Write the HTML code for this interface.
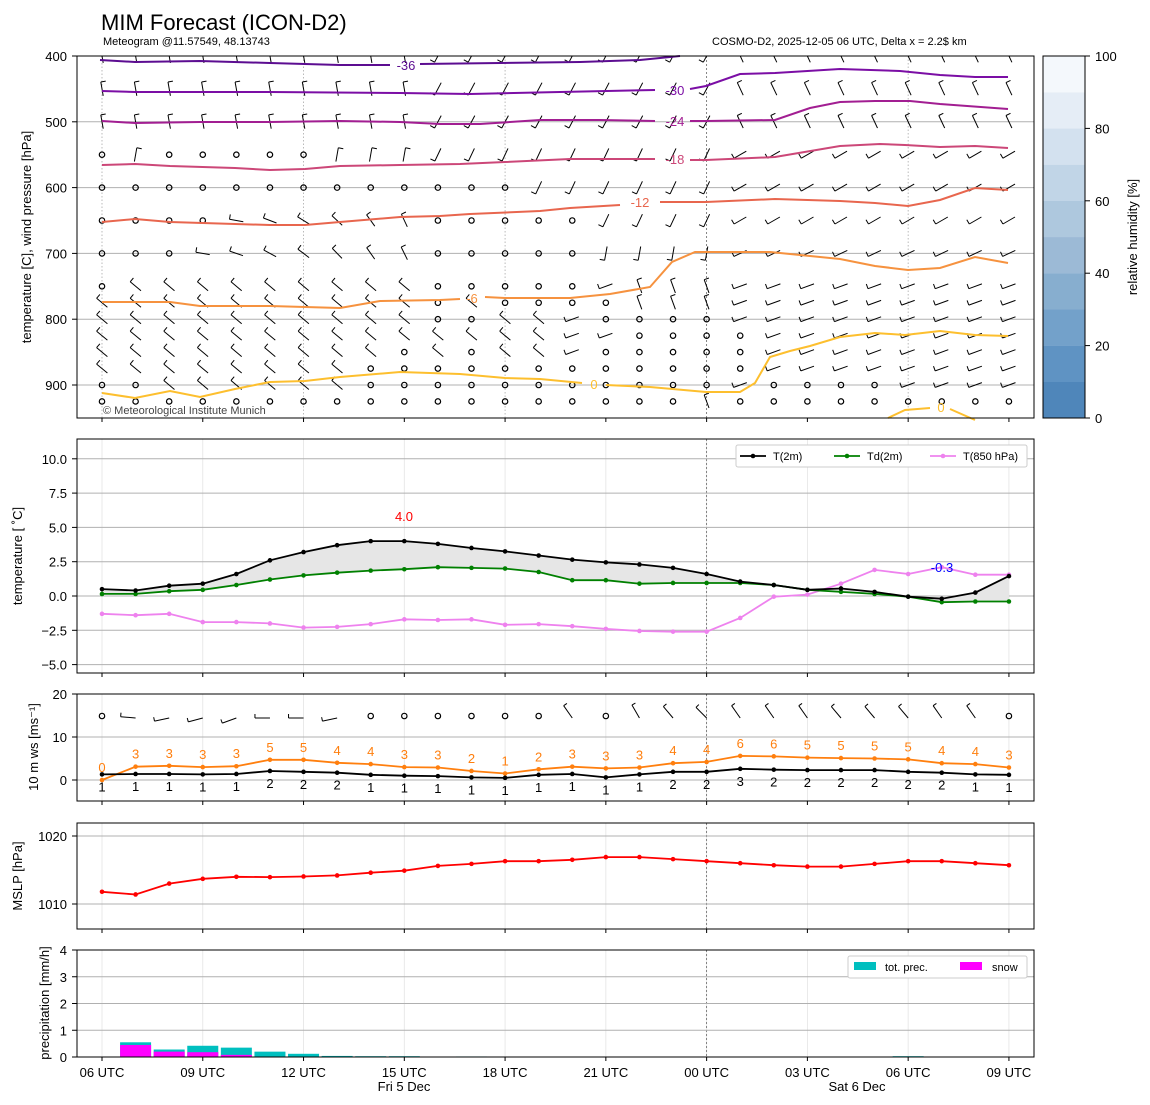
<!DOCTYPE html>
<html><head><meta charset="utf-8"><style>
body{margin:0;background:#fff;}
svg{display:block;font-family:"Liberation Sans","DejaVu Sans",sans-serif;}
</style></head><body>
<svg id="s" width="1150" height="1105" xmlns="http://www.w3.org/2000/svg"></svg>
<script>
const S=document.getElementById('s');let out='';
const X=h=>102+h*33.59;
function line(x1,y1,x2,y2,st){out+=`<line x1="${x1}" y1="${y1}" x2="${x2}" y2="${y2}" ${st}/>`;}
function txt(x,y,t,st){out+=`<text x="${x}" y="${y}" ${st}>${t}</text>`;}
function poly(pts,st){out+=`<polyline points="${pts.map(p=>p[0].toFixed(1)+','+p[1].toFixed(1)).join(' ')}" fill="none" ${st}/>`;}
out+=`<defs><clipPath id="c1"><rect x="77" y="56" width="957" height="362"/></clipPath></defs>`;
txt(101,30,'MIM Forecast (ICON-D2)','font-size="22"');
txt(103,45,'Meteogram @11.57549, 48.13743','font-size="11"');
txt(712,45,'COSMO-D2, 2025-12-05 06 UTC, Delta x = 2.2$ km','font-size="11"');
const panels=[[56,418],[439,673],[694,801],[823,929],[950,1057]];
panels.forEach((p,i)=>{
 for(let h=0;h<=27;h+=3){ if(i==0) continue; line(X(h),p[0],X(h),p[1],'stroke="#e4e4e4" stroke-width="0.8"');}
 line(X(18),p[0],X(18),p[1],'stroke="#666" stroke-width="0.8" stroke-dasharray="2,2"');
});
[0,6,12,24].forEach(h=>line(X(h),56,X(h),418,'stroke="#aaa" stroke-width="0.8" stroke-dasharray="1.5,2"'));
const P1=p=>56+(p-400)*0.658;
for(let p=500;p<=900;p+=100)line(77,P1(p),1034,P1(p),'stroke="#b0b0b0" stroke-width="1"');
for(let p=400;p<=900;p+=100){line(72,P1(p),77,P1(p),'stroke="#000"');txt(67,P1(p)+5,p,'font-size="13" text-anchor="end"');}
// barbs
const calmSet={
 550:[0,2,3,4,5,6],600:[0,1,2,3,4,5,6,7,8,9,10,11,12],650:[0,1,2,3,10,11,12,13,14],
 700:[0,1,2,10,11,12,13,14],750:[0,10,11,12,13,14],775:[10,12,13,14,15],800:[10,11,15,16,17,18],
 825:[16,17,18,19],850:[9,11,15,16,17,18,19],875:[8,9,10,11,12,13,14,15,16,17,18,19],
 900:[0,1,8,9,10,11,12,13,14,15,16,17,18,20,21,22,23],925:[0,1,2,3,4,5,6,7,8,9,10,11,12,13,14,15,16,17,19,20,21,22,23,24,25,26,27]};
function ang(p,h){
 if(p<=500){ if(h<=9)return 80; if(h<=18)return -62; return 65;}
 if(p<=650){ if(p==650&&h<=9)return 10+(h-4)*11; if(h<=9)return 100; if(h<=18)return -65; return -30;}
 if(p==700){ if(h<=9)return 10+(h-3)*9; if(h<=18)return -80; return -25;}
 if(h<=13)return 40; if(h<=15)return -20; if(h<=18)return 70; return -20;
}
const lev=[400,450,500,550,600,650,700,750,775,800,825,850,875,900,925];
out+='<g clip-path="url(#c1)">';
lev.forEach(p=>{for(let h=0;h<28;h++){const x=X(h),y=P1(p);
 if((calmSet[p]||[]).includes(h)){out+=`<circle cx="${x}" cy="${y}" r="2.7" fill="none" stroke="#000" stroke-width="1.2"/>`;continue;}
 const a=ang(p,h)*Math.PI/180,ux=Math.cos(a),uy=Math.sin(a);
 const hx=x-7*ux,hy=y-7*uy,tx=x+7*ux,ty=y+7*uy;
 line(hx.toFixed(1),hy.toFixed(1),tx.toFixed(1),ty.toFixed(1),'stroke="#000" stroke-width="1"');
 line(hx.toFixed(1),hy.toFixed(1),(hx+5*uy).toFixed(1),(hy-5*ux).toFixed(1),'stroke="#000" stroke-width="1"');
}});
out+='</g>';
function iso(pts,col){poly(pts,`stroke="${col}" stroke-width="2"`);}
iso([[100,60],[135,62],[200,61],[270,63],[340,65],[390,65]],'#5c0d91');
iso([[420,64],[500,63],[580,62],[640,60],[680,56]],'#5c0d91');
txt(406,70,'-36','font-size="13" fill="#5c0d91" text-anchor="middle"');
iso([[102,91],[135,92],[270,92],[400,93],[470,94],[560,92],[655,90]],'#7b0ea5');
iso([[690,89],[706,86],[740,74],[775,73],[840,69],[900,71],[940,75],[975,77],[1008,77]],'#7b0ea5');
txt(675,95,'-30','font-size="13" fill="#7b0ea5" text-anchor="middle"');
iso([[102,121],[135,123],[200,122],[270,122],[340,121],[400,122],[440,124],[480,124],[540,120],[600,120],[655,121]],'#a21e92');
iso([[690,121],[706,121],[775,120],[810,108],[840,102],[875,101],[910,101],[940,104],[1008,109]],'#a21e92');
txt(675,126,'-24','font-size="13" fill="#a21e92" text-anchor="middle"');
iso([[102,165],[135,164],[170,166],[235,168],[270,170],[305,169],[340,166],[400,165],[460,164],[505,162],[570,159],[655,159]],'#cc4778');
iso([[690,160],[706,160],[775,157],[840,146],[880,144],[905,145],[940,147],[975,146],[1008,148]],'#cc4778');
txt(675,164,'-18','font-size="13" fill="#cc4778" text-anchor="middle"');
iso([[102,222],[135,219],[170,222],[235,224],[270,225],[305,225],[340,222],[400,217],[440,216],[470,214],[540,211],[570,208],[620,205]],'#e8664e');
iso([[660,202],[706,202],[775,199],[840,201],[875,203],[908,206],[940,200],[975,188],[1008,190]],'#e8664e');
txt(640,207,'-12','font-size="13" fill="#e8664e" text-anchor="middle"');
iso([[102,302],[170,302],[200,306],[270,306],[340,308],[380,301],[440,300],[460,299]],'#f6923f');
iso([[485,297],[505,298],[570,298],[610,294],[650,287],[672,262],[695,252],[770,252],[800,255],[840,259],[875,266],[908,270],[940,268],[975,257],[1008,263]],'#f6923f');
txt(472,303,'-6','font-size="13" fill="#f6923f" text-anchor="middle"');
iso([[102,393],[135,398],[170,391],[200,397],[235,389],[270,382],[305,381],[340,377],[400,372],[460,374],[505,378],[540,379],[582,383]],'#fdbf2e');
iso([[606,385],[650,387],[706,392],[740,392],[755,383],[770,357],[790,351],[810,346],[840,337],[875,333],[905,335],[940,331],[975,335],[1008,336]],'#fdbf2e');
txt(594,389,'0','font-size="13" fill="#fdbf2e" text-anchor="middle"');
iso([[888,418],[905,410],[930,408]],'#fdbf2e');iso([[950,409],[975,420]],'#fdbf2e');
txt(941,412,'0','font-size="13" fill="#fdbf2e" text-anchor="middle"');
txt(103,414,'© Meteorological Institute Munich','font-size="11" fill="#444"');
const cb=['#4f86ba','#5f93c3','#73a1ca','#87aecf','#9cbad6','#aec8de','#c1d5e7','#d3e1ef','#e5edf6','#f4f8fc'];
for(let i=0;i<10;i++)out+=`<rect x="1043" y="${418-(i+1)*36.2}" width="42" height="36.4" fill="${cb[i]}"/>`;
out+=`<rect x="1043" y="56" width="42" height="362" fill="none" stroke="#000"/>`;
for(let v=0;v<=100;v+=20){const y=418-v*3.62;line(1085,y,1090,y,'stroke="#000"');txt(1095,y+5,v,'font-size="13"');}
txt(0,0,'relative humidity [%]','font-size="13" text-anchor="middle" transform="translate(1137,237) rotate(-90)"');
txt(0,0,'temperature [C], wind pressure [hPa]','font-size="13" text-anchor="middle" transform="translate(31,237) rotate(-90)"');
const P2=v=>596-v*13.72;
for(let v=-5;v<=10;v+=2.5){line(77,P2(v),1034,P2(v),'stroke="#b0b0b0" stroke-width="1"');line(72,P2(v),77,P2(v),'stroke="#000"');txt(67,P2(v)+5,(v<0?'−':'')+Math.abs(v).toFixed(1),'font-size="13" text-anchor="end"');}
txt(0,0,'temperature [ ˚C]','font-size="13" text-anchor="middle" transform="translate(22,556) rotate(-90)"');
const T=[0.5,0.4,0.75,0.9,1.6,2.6,3.2,3.7,4.0,4.0,3.8,3.5,3.25,2.95,2.65,2.45,2.3,2.05,1.6,1.05,0.8,0.45,0.55,0.3,-0.05,-0.2,0.25,1.45];
const Td=[0.15,0.15,0.35,0.45,0.8,1.2,1.5,1.7,1.85,1.95,2.1,2.05,2.0,1.75,1.15,1.15,0.9,0.95,0.95,0.95,0.8,0.45,0.3,0.15,-0.05,-0.45,-0.4,-0.4];
const T8=[-1.3,-1.4,-1.3,-1.9,-1.9,-2.0,-2.3,-2.25,-2.05,-1.7,-1.75,-1.7,-2.1,-2.05,-2.2,-2.4,-2.55,-2.6,-2.6,-1.6,-0.05,0.1,0.9,1.9,1.6,2.1,1.55,1.55];
let fp=T.map((v,i)=>[X(i),P2(v)]).concat(Td.map((v,i)=>[X(i),P2(v)]).reverse());
out+=`<polygon points="${fp.map(p=>p.join(',')).join(' ')}" fill="#e6e6e6"/>`;
function series(d,f,col,w){const pts=d.map((v,i)=>[X(i),f(v)]);poly(pts,`stroke="${col}" stroke-width="${w||1.8}"`);pts.forEach(p=>out+=`<circle cx="${p[0]}" cy="${p[1]}" r="2.3" fill="${col}"/>`);}
series(T8,P2,'#ee82ee');series(Td,P2,'#008000');series(T,P2,'#000');
txt(404,521,'4.0','font-size="13" fill="red" text-anchor="middle"');
txt(942,572,'-0.3','font-size="13" fill="blue" text-anchor="middle"');
out+=`<rect x="736" y="445" width="291" height="22" rx="2" fill="#fff" stroke="#ccc"/>`;
[[740,'#000','T(2m)'],[834,'#008000','Td(2m)'],[930,'#ee82ee','T(850 hPa)']].forEach(l=>{line(l[0],456,l[0]+26,456,`stroke="${l[1]}" stroke-width="1.8"`);out+=`<circle cx="${l[0]+13}" cy="456" r="2.3" fill="${l[1]}"/>`;txt(l[0]+33,460,l[2],'font-size="11"');});
const P3=v=>780-v*4.3;
[0,10,20].forEach(v=>{line(77,P3(v),1034,P3(v),'stroke="#b0b0b0" stroke-width="1"');line(72,P3(v),77,P3(v),'stroke="#000"');txt(67,P3(v)+5,v,'font-size="13" text-anchor="end"');});
txt(0,0,'10 m ws [ms⁻¹]','font-size="13" text-anchor="middle" transform="translate(38,747) rotate(-90)"');
const calm3=[0,8,9,10,11,12,13,15,27];
const a3=[0,5,-12,-15,-20,0,0,-12,0,0,0,0,0,0,55,0,60,50,45,55,55,55,50,50,50,55,55,0];
for(let h=0;h<28;h++){const x=X(h),y=716;
 if(calm3.includes(h)){out+=`<circle cx="${x}" cy="${y}" r="2.7" fill="none" stroke="#000" stroke-width="1.2"/>`;continue;}
 const r=a3[h]*Math.PI/180,ux=Math.cos(r),uy=Math.sin(r);
 line(x-15*ux,y-15*uy+2,x,y+2,'stroke="#000" stroke-width="1"');
 line(x-15*ux,y-15*uy+2,x-15*ux+4*uy,y-15*uy+2-4*ux,'stroke="#000" stroke-width="1"');}
const WS=[0,3.1,3.3,3.0,3.2,4.7,4.7,4.0,3.7,3.0,2.9,2.1,1.5,2.5,3.1,2.7,2.9,3.9,4.2,5.6,5.5,5.2,5.1,5.0,4.8,3.9,3.7,2.9];
const WL=[0,3,3,3,3,5,5,4,4,3,3,2,1,2,3,3,3,4,4,6,6,5,5,5,5,4,4,3];
const W2=[1.3,1.4,1.4,1.3,1.4,2.1,1.9,1.7,1.2,1.0,0.9,0.6,0.5,1.2,1.4,0.6,1.3,1.9,1.9,2.6,2.4,2.3,2.3,2.3,1.9,1.7,1.3,1.2];
const WL2=[1,1,1,1,1,2,2,2,1,1,1,1,1,1,1,1,1,2,2,3,2,2,2,2,2,2,1,1];
series(WS,P3,'#ff7f0e');series(W2,P3,'#000');
WS.forEach((v,i)=>txt(X(i),P3(v)-8,WL[i],'font-size="13" fill="#ff7f0e" text-anchor="middle"'));
W2.forEach((v,i)=>txt(X(i),P3(v)+17,WL2[i],'font-size="13" text-anchor="middle"'));
const P4=v=>904-(v-1010)*6.8;
[1010,1020].forEach(v=>{line(77,P4(v),1034,P4(v),'stroke="#b0b0b0" stroke-width="1"');line(72,P4(v),77,P4(v),'stroke="#000"');txt(67,P4(v)+5,v,'font-size="13" text-anchor="end"');});
txt(0,0,'MSLP [hPa]','font-size="13" text-anchor="middle" transform="translate(22,876) rotate(-90)"');
const MS=[1011.8,1011.4,1013.0,1013.7,1014.0,1013.95,1014.05,1014.2,1014.6,1014.9,1015.6,1015.9,1016.3,1016.3,1016.5,1016.9,1016.9,1016.6,1016.3,1016.0,1015.7,1015.5,1015.5,1015.9,1016.3,1016.3,1016.0,1015.7];
series(MS,P4,'#ff0000');
const P5=v=>1057-v*26.75;
[0,1,2,3,4].forEach(v=>{line(77,P5(v),1034,P5(v),'stroke="#b0b0b0" stroke-width="1"');line(72,P5(v),77,P5(v),'stroke="#000"');txt(67,P5(v)+5,v,'font-size="13" text-anchor="end"');});
txt(0,0,'precipitation [mm/h]','font-size="13" text-anchor="middle" transform="translate(49,1003) rotate(-90)"');
const PR={1:0.55,2:0.28,3:0.42,4:0.35,5:0.2,6:0.12,7:0.04,8:0.03,9:0.03,11:0.02,24:0.03};
const SN={1:0.45,2:0.2,3:0.18,4:0.08};
for(const h in PR)out+=`<rect x="${X(+h)-15.5}" y="${P5(PR[h])}" width="31" height="${PR[h]*26.75}" fill="#00bfbf"/>`;
for(const h in SN)out+=`<rect x="${X(+h)-15.5}" y="${P5(SN[h])}" width="31" height="${SN[h]*26.75}" fill="#ff00ff"/>`;
out+=`<rect x="848" y="956" width="179" height="22" rx="2" fill="#fff" stroke="#ccc"/>`;
out+=`<rect x="854" y="962" width="22" height="8" fill="#00bfbf"/>`;txt(885,971,'tot. prec.','font-size="11"');
out+=`<rect x="960" y="962" width="22" height="8" fill="#ff00ff"/>`;txt(992,971,'snow','font-size="11"');
panels.forEach(p=>{out+=`<rect x="77" y="${p[0]}" width="957" height="${p[1]-p[0]}" fill="none" stroke="#000" stroke-width="1"/>`;
 for(let h=0;h<=27;h+=3)line(X(h),p[1],X(h),p[1]+4,'stroke="#000"');});
const lb=['06 UTC','09 UTC','12 UTC','15 UTC','18 UTC','21 UTC','00 UTC','03 UTC','06 UTC','09 UTC'];
lb.forEach((l,i)=>txt(X(i*3),1077,l,'font-size="13" text-anchor="middle"'));
txt(404,1091,'Fri 5 Dec','font-size="13" text-anchor="middle"');
txt(857,1091,'Sat 6 Dec','font-size="13" text-anchor="middle"');
S.innerHTML=out;
</script>
</body></html>
